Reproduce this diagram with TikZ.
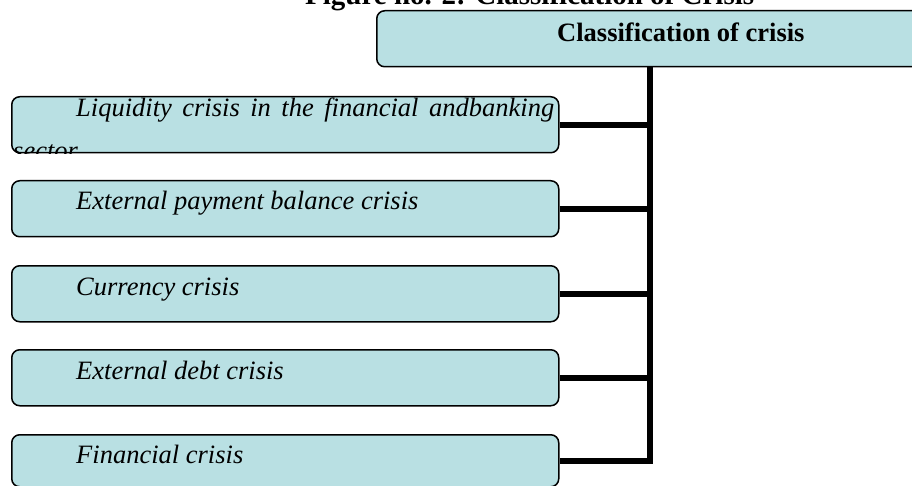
\documentclass[tikz,border=0pt]{standalone}
\usepackage{fontspec}
\setmainfont{Liberation Serif}
\definecolor{boxfill}{HTML}{B9E0E3}
\begin{document}
\begin{tikzpicture}[x=1pt,y=-1pt,
  itembox/.style={draw=black, line width=1.5pt, fill=boxfill, rounded corners=8pt,
    minimum width=547pt, minimum height=56pt, inner sep=0pt, anchor=north west},
  headbox/.style={draw=black, line width=1.5pt, fill=boxfill, rounded corners=8pt,
    minimum width=580pt, minimum height=56pt, inner sep=0pt, anchor=north west},
  itemtext/.style={font=\fontsize{26.5}{38}\itshape\selectfont, anchor=base west, inner sep=0pt},
  headtext/.style={font=\fontsize{26.5}{32}\bfseries\selectfont, anchor=base west, inner sep=0pt},
  conn/.style={line width=6pt, draw=black}]
\clip (0,0) rectangle (912,486);
\fill[white] (0,0) rectangle (912,486);
% title (cut off by the page edge, as in the reference)
\node[font=\fontsize{29}{34}\bfseries\selectfont, anchor=base west, inner sep=0pt] (title) at (305,5) {Figure no. 2: Classification of Crisis};
% header box
\node[headbox] (head) at (376,10) {};
\node[headtext] (headlabel) at (557,42) {Classification of crisis};
% item boxes
\node[itembox] (b1) at (11,96) {};
\node[itembox] (b2) at (11,180) {};
\node[itembox] (b3) at (11,265) {};
\node[itembox] (b4) at (11,349) {};
\node[itembox, minimum height=52pt] (b5) at (11,434) {};
% texts
\begin{scope}
  \clip[rounded corners=8pt] (b1.north west) rectangle (b1.south east);
  \node[anchor=base west, inner sep=0pt] (t1) at (13,117) {\parbox[t]{541pt}{\fontsize{26.5}{43}\itshape\selectfont\noindent\hspace*{63pt}Liquidity crisis in the financial andbanking\linebreak sector\par}};
\end{scope}
\node[itemtext] (t2) at (76,210) {External payment balance crisis};
\node[itemtext] (t3) at (76,295) {Currency crisis};
\node[itemtext] (t4) at (76,379) {External debt crisis};
\node[itemtext] (t5) at (76,463) {Financial crisis};
% connectors
\coordinate (bus) at (650,0);
\draw[conn, line join=miter] (head.south -| bus) -- (bus |- b5.east) -- (b5.east);
\draw[conn] (b1.east) -- (bus |- b1.east);
\draw[conn] (b2.east) -- (bus |- b2.east);
\draw[conn] (b3.east) -- (bus |- b3.east);
\draw[conn] (b4.east) -- (bus |- b4.east);
\end{tikzpicture}
\end{document}
